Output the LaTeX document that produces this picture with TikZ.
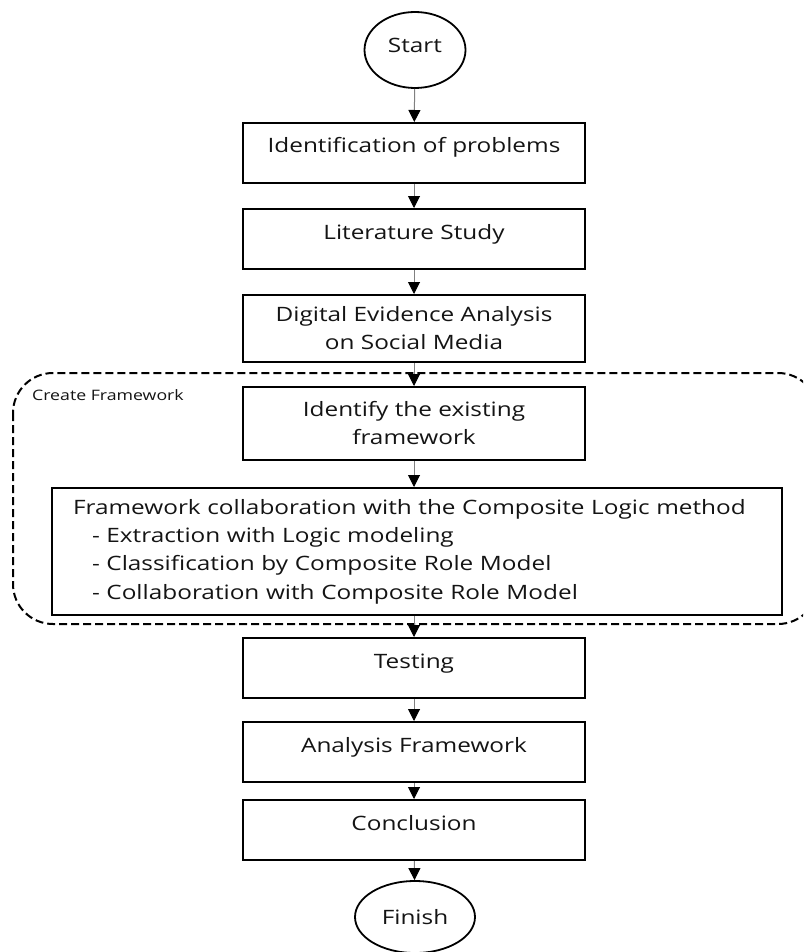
\documentclass[tikz,border=0pt]{standalone}
\usepackage{fontspec}
\setmainfont{Open Sans}[FakeStretch=1.23]
\usetikzlibrary{arrows.meta,shapes.geometric}
\begin{document}
\begin{tikzpicture}[x=1pt,y=-1pt,
  every node/.style={text=black!92},
  proc/.style={draw=black, line width=2pt, rectangle, minimum width=342pt, inner sep=0pt,
    font=\fontsize{19.8}{28}\selectfont},
  oneline/.style={proc, minimum height=60pt, text height=10pt, text depth=10pt},
  term/.style={draw=black, ellipse, line width=1.8pt, inner sep=0pt,
    font=\fontsize{19.8}{28}\selectfont},
  flow/.style={draw=black!50, line width=1pt, -{Triangle[length=12pt,width=12pt,color=black]}},
  group/.style={draw=black, line width=2pt, dash pattern=on 8pt off 4pt, rounded corners=40pt},
  grouplabel/.style={anchor=west, inner sep=0pt, font=\fontsize{14.4}{16}\selectfont}
]
\useasboundingbox (0,0) rectangle (803,952);
\clip (0,0) rectangle (803,952);

% group frame
\draw[group] (13,373) rectangle (818,624);
\node[grouplabel] (gl) at (32,395) {Create Framework};

% terminals
\node[term, minimum width=101pt, minimum height=76pt, text height=12pt, text depth=7pt] (start) at (415,50) {Start};
\node[term, minimum width=120pt, minimum height=72pt] (finish) at (415,917) {Finish};

% process boxes
\node[oneline] (b1) at (414,153) {Identification of problems};
\node[oneline] (b2) at (414,239) {Literature Study};
\node[proc, minimum height=67pt, align=center] (b3) at (414,328.5) {Digital Evidence Analysis\\on Social Media};
\node[proc, minimum height=73pt, align=center] (b4) at (414,423.5) {Identify the existing\\framework};
\node[proc, minimum width=730pt, minimum height=127pt, text width=688pt, align=left,
  font=\fontsize{19.8}{28.4}\selectfont] (b5) at (417,551.5)
  {Framework collaboration with the Composite Logic method\\
   \hspace*{19pt}- Extraction with Logic modeling\\
   \hspace*{19pt}- Classification by Composite Role Model\\
   \hspace*{19pt}- Collaboration with Composite Role Model};
\node[oneline] (b6) at (414,668) {Testing};
\node[oneline] (b7) at (414,752) {Analysis Framework};
\node[oneline] (b8) at (414,830) {Conclusion};

% connectors
\draw[flow] (start) -- (b1);
\draw[flow] (b1) -- (b2);
\draw[flow] (b2) -- (b3);
\draw[flow] (b3) -- (b4);
\draw[flow] (b4.south) -- (b4.south |- b5.north);
\draw[flow] (b4.south |- b5.south) -- (b6.north);
\draw[flow] (b6) -- (b7);
\draw[flow] (b7) -- (b8);
\draw[flow] (b8) -- (finish);
\end{tikzpicture}
\end{document}
